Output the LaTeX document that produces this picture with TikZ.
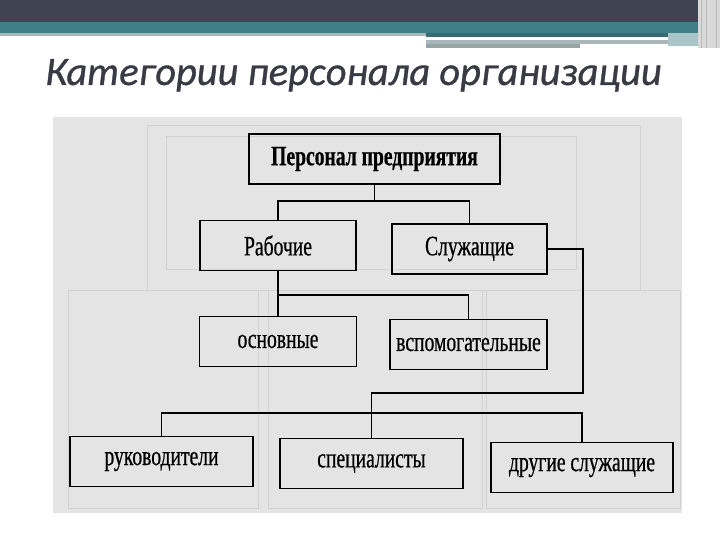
\documentclass[tikz,border=0pt]{standalone}
\usepackage{fontspec}
\setmainfont{Liberation Serif}
\newfontfamily\scanfont[FakeStretch=0.7, FakeBold=0.6]{Liberation Serif}
\newfontfamily\titlefont[FakeBold=0.8]{Carlito}
\usetikzlibrary{positioning}
\definecolor{cdark}{HTML}{404452}
\definecolor{cteal}{HTML}{417F88}
\definecolor{cpale}{HTML}{A9B7BA}
\definecolor{cscan}{HTML}{E4E4E4}
\definecolor{cghost}{HTML}{D2D2D2}
\definecolor{ctitle}{HTML}{3A3A44}
\tikzset{
  every picture/.style={x=1pt, y=-1pt},
  box/.style={draw=black, line width=1.8pt, minimum width=#1, minimum height=50pt,
    inner sep=0pt, font=\scanfont\fontsize{28}{28}\selectfont},
  box/.default=157pt,
  link/.style={draw=black, line width=1.6pt},
  ghost/.style={draw=cghost, line width=1pt},
  title/.style={font=\titlefont\itshape\fontsize{40.5}{40.5}\selectfont, text=ctitle, inner sep=0pt},
}

\begin{document}
\begin{tikzpicture}
  \useasboundingbox (0,0) rectangle (720,540);
  \fill[white] (0,0) rectangle (720,540);
  % slide header
  \fill[cdark] (0,0) rectangle (698,22);
  \fill[cteal] (0,22) rectangle (698,33);
  \fill[cpale] (0,33) rectangle (426,36);
  \fill[cteal!85!black] (426,33) rectangle (668,37);
  \fill[cpale] (426,40) rectangle (668,44);
  \fill[cpale!90!black] (426,44) rectangle (580,48);
  \fill[cteal!45!white] (668,33) rectangle (698,46);
  \fill[gray!30] (698,0) rectangle (720,48);
  \draw[gray!55, line width=1pt] (701,0) -- (701,48) (706,0) -- (706,48) (716,0) -- (716,48);
  \node[title, anchor=base west] (head) at (45,85) {Категории персонала организации};
  % scanned sheet
  \fill[cscan] (53,117) rectangle (682,513);
  \draw[ghost] (147,126) rectangle (640,290);
  \draw[ghost] (166,137) rectangle (576,269);
  \draw[ghost] (68,290) rectangle (258,508);
  \draw[ghost] (268,290) rectangle (482,508);
  \draw[ghost] (486,290) rectangle (680,508);
  \foreach \n/\x/\y/\w/\t in {top/374.5/159/251/{\bfseries Персонал предприятия},
                              rab/278/245.5/156/{Рабочие},
                              sluz/469.5/249/155/{Служащие},
                              osn/278/341.5/157/{основные},
                              vsp/468.5/344.5/157/{вспомогательные},
                              ruk/161.5/461.5/183/{руководители},
                              spec/371.5/463.5/183/{специалисты},
                              drug/582/467.5/182/{другие служащие}}
    { \node[box=\w pt] (\n) at (\x,\y) {\t}; }
  \coordinate (bus1) at (374.5,201);
  \coordinate (bus2) at (278,295);
  \coordinate (turn) at (583,393);
  \coordinate (bus3) at (582,413);
  \draw[link] (top) -- (bus1);
  \draw[link] (rab.north) |- (bus1) -| (sluz.north);
  \draw[link] (rab) -- (osn);
  \draw[link] (bus2) -| (vsp.north);
  \draw[link] (sluz.east) -| (turn) -| (spec.north);
  \draw[link] (ruk.north) |- (bus3) -| (drug.north);
\end{tikzpicture}
\end{document}
